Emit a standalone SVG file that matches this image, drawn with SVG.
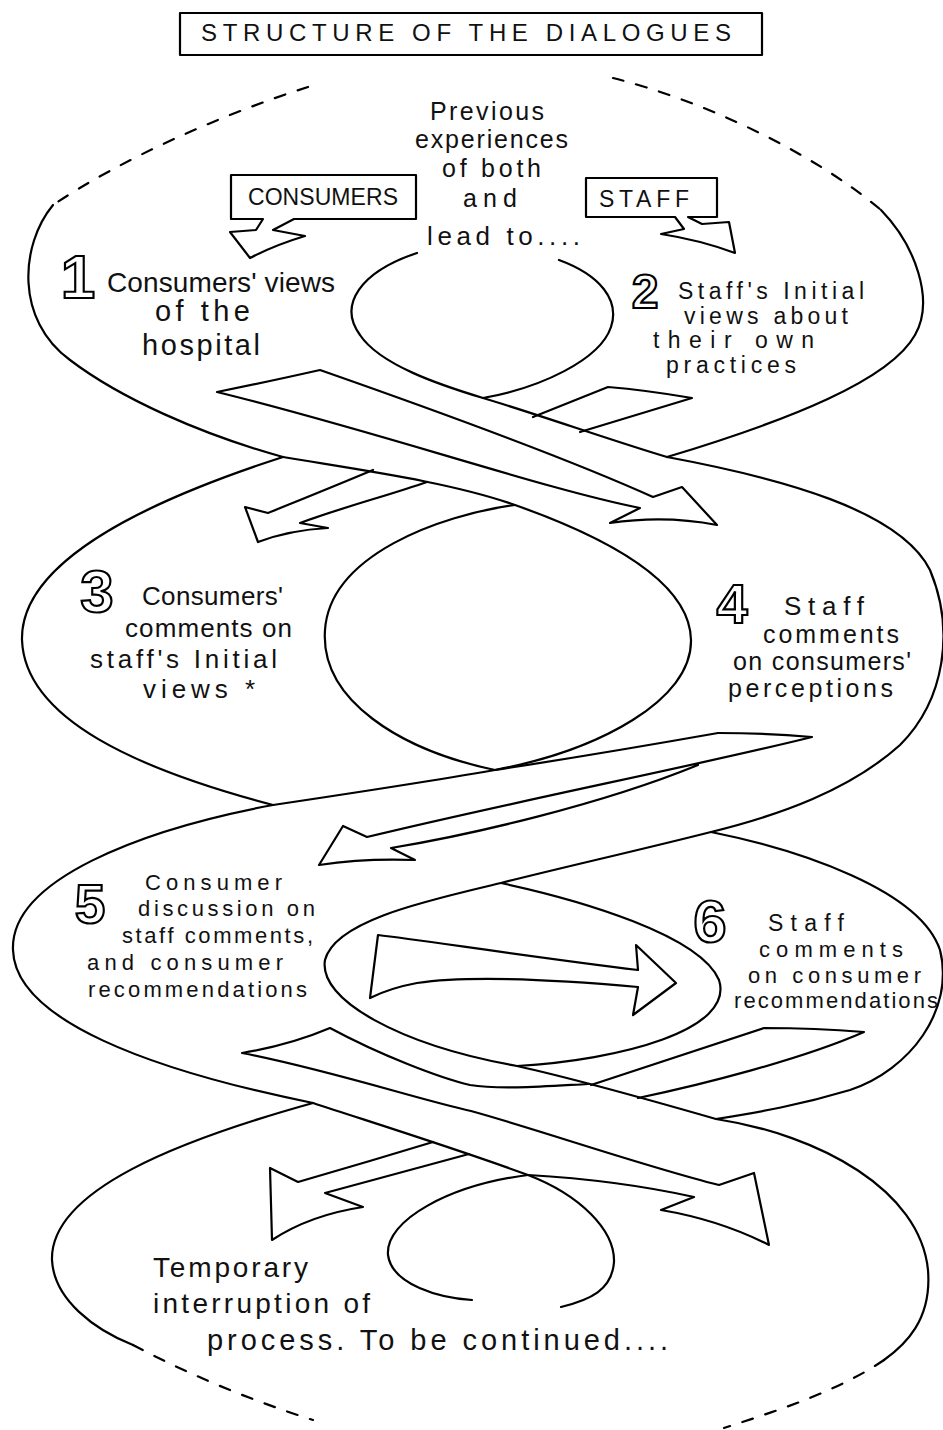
<svg xmlns="http://www.w3.org/2000/svg" width="943" height="1430" viewBox="0 0 943 1430">
<style>
.ln{fill:none;stroke:#000;stroke-width:2.2;stroke-linecap:round;stroke-linejoin:round}
.dash{stroke-dasharray:11 13}
.band{fill:#fff;stroke:#000;stroke-width:2.2;stroke-linejoin:round}
.t{font-family:"Liberation Sans","DejaVu Sans",sans-serif;fill:#111}
.num{font-family:"Liberation Sans","DejaVu Sans",sans-serif;font-weight:bold;fill:#fff;stroke:#000;stroke-width:2.2;text-anchor:middle}
</style>
<rect width="943" height="1430" fill="#fff"/>

<g id="title">
<rect class="ln" x="180" y="13" width="582" height="42"/>
<text class="t" x="201" y="41" font-size="24" textLength="530" lengthAdjust="spacing">STRUCTURE OF THE DIALOGUES</text>
</g>

<g id="helix">
<path class="ln dash" d="M308,87 C220,115 120,160 53,205"/>
<path class="ln dash" d="M613,78 C700,100 810,150 881,210"/>
<path class="ln" d="M53,205 C20,245 15,320 70,360 C120,398 200,434 283,457"/>
<path class="ln" d="M881,210 C915,245 935,300 915,335 C890,380 790,420 667,457"/>
<path class="ln" d="M417,253 C360,272 338,305 360,335 C380,365 440,385 483,398 C540,415 610,440 667,457"/>
<path class="ln" d="M559,260 C600,275 620,300 611,327 C600,360 540,388 483,398"/>
<path class="ln" d="M283,457 C360,470 450,482 515,505 C600,535 690,580 691,640 C692,700 600,750 495,770 C420,783 340,795 273,805"/>
<path class="ln" d="M515,505 C440,515 330,555 325,630 C320,700 400,750 495,770 C560,760 650,745 718,733"/>
<path class="ln" d="M283,457 C150,500 20,560 22,640 C25,720 140,770 273,805"/>
<path class="ln" d="M667,457 C780,478 900,510 930,570 C955,630 945,700 900,745 C850,790 780,815 711,832"/>
<path class="ln" d="M711,832 C640,850 560,868 501,883 C430,900 335,920 325,960 C318,1000 400,1045 517,1066 C580,1080 650,1100 716,1119"/>
<path class="ln" d="M501,883 C580,900 700,935 719,980 C735,1030 620,1060 517,1066"/>
<path class="ln" d="M273,805 C140,830 10,880 13,950 C15,1020 150,1070 313,1103"/>
<path class="ln" d="M711,832 C800,850 920,890 940,950 C955,1010 910,1070 850,1090 C800,1105 760,1112 716,1119"/>
<path class="ln" d="M716,1119 C820,1135 920,1190 928,1270 C932,1320 905,1345 884,1360"/>
<path class="ln dash" d="M884,1360 C840,1390 780,1410 724,1428"/>
<path class="ln" d="M313,1103 C180,1140 50,1190 52,1260 C54,1300 95,1330 133,1345"/>
<path class="ln dash" d="M133,1345 C190,1375 250,1400 313,1420"/>
<path class="ln" d="M313,1103 C380,1125 460,1150 528,1175 C580,1195 615,1230 614,1262 C612,1290 590,1300 561,1307"/>
<path class="ln" d="M528,1175 C450,1185 385,1220 388,1255 C392,1285 440,1298 472,1300"/>
</g>

<g id="connectors">
<path class="band" d="M217,392 Q262,383 320,370 C420,405 560,455 653,497 L682,487 L717,525 Q665,515 610,523 L640,508 C540,488 380,432 217,392 Z"/>
<path class="ln" d="M533,417 L608,387 Q645,390 692,398 L580,432"/>
<path class="ln" d="M373,470 C330,488 300,500 268,513 L245,507 L258,542 Q290,530 328,528 L300,523 C340,508 390,495 427,482"/>
<path class="ln" d="M718,733 Q765,733 812,737 C700,765 520,800 367,837 L343,826 L319,865 Q365,858 415,860 L391,848 C470,835 600,805 698,765"/>
<path class="band" d="M378,935 C420,940 540,958 638,970 L636,945 L676,983 L633,1015 L638,987 C560,980 470,975 417,983 Q390,988 370,998 Z"/>
<path class="ln" d="M588,1084 C550,1086 500,1090 470,1085 C440,1078 380,1055 330,1028 Q290,1045 242,1053 C330,1070 420,1100 471,1111 C540,1130 640,1165 719,1185 L754,1173 L769,1245 Q720,1220 661,1210 L694,1197 C640,1185 580,1178 528,1175"/>
<path class="ln" d="M591,1085 L764,1028 Q815,1028 864,1032 C800,1060 700,1085 638,1098"/>
<path class="ln" d="M433,1142 C390,1155 340,1170 298,1182 L270,1168 L272,1240 Q310,1215 363,1207 L325,1193 C380,1178 430,1165 469,1154"/>
</g>

<g id="start">
<text class="t" font-size="25" x="430" y="120" textLength="114" lengthAdjust="spacing">Previous</text>
<text class="t" font-size="25" x="415" y="148" textLength="153" lengthAdjust="spacing">experiences</text>
<text class="t" font-size="25" x="442" y="177" textLength="99" lengthAdjust="spacing">of both</text>
<text class="t" font-size="25" x="463" y="207" textLength="54" lengthAdjust="spacing">and</text>
<text class="t" font-size="26" x="427" y="245" textLength="153" lengthAdjust="spacing">lead to....</text>
</g>

<g id="consumers">
<path class="ln" d="M294,219 L416,219 L416,175 L231,175 L231,219 L263,219 L256,230 L230,232 L250,258 Q275,245 305,236 L273,230 Z"/>
<text class="t" font-size="23" x="248" y="205" textLength="150" lengthAdjust="spacing">CONSUMERS</text>
</g>

<g id="staff">
<path class="ln" d="M675,217 L586,217 L586,178 L717,178 L717,217 L688,217 L702,224 L729,222 L735,253 Q700,240 661,234 L684,229 Z"/>
<text class="t" font-size="23" x="599" y="207" textLength="90" lengthAdjust="spacing">STAFF</text>
</g>

<g id="stage1">
<text class="num" font-size="62" x="78" y="298">1</text>
<text class="t" font-size="28" x="107" y="292" textLength="228" lengthAdjust="spacing">Consumers' views</text>
<text class="t" font-size="29" x="155" y="321" textLength="95" lengthAdjust="spacing">of the</text>
<text class="t" font-size="29" x="142" y="355" textLength="118" lengthAdjust="spacing">hospital</text>
</g>

<g id="stage2">
<text class="num" font-size="48" x="645" y="308">2</text>
<text class="t" font-size="23" x="678" y="299" textLength="186" lengthAdjust="spacing">Staff's Initial</text>
<text class="t" font-size="23" x="684" y="324" textLength="164" lengthAdjust="spacing">views about</text>
<text class="t" font-size="23" x="653" y="348" textLength="161" lengthAdjust="spacing">their own</text>
<text class="t" font-size="23" x="666" y="373" textLength="130" lengthAdjust="spacing">practices</text>
</g>

<g id="stage3">
<text class="num" font-size="60" x="97" y="612">3</text>
<text class="t" font-size="26" x="142" y="605" textLength="141" lengthAdjust="spacing">Consumers'</text>
<text class="t" font-size="26" x="125" y="637" textLength="167" lengthAdjust="spacing">comments on</text>
<text class="t" font-size="26" x="90" y="668" textLength="187" lengthAdjust="spacing">staff's Initial</text>
<text class="t" font-size="26" x="143" y="698" textLength="112" lengthAdjust="spacing">views *</text>
</g>

<g id="stage4">
<text class="num" font-size="56" x="732" y="623">4</text>
<text class="t" font-size="26" x="784" y="615" textLength="80" lengthAdjust="spacing">Staff</text>
<text class="t" font-size="25" x="763" y="643" textLength="136" lengthAdjust="spacing">comments</text>
<text class="t" font-size="25" x="733" y="670" textLength="178" lengthAdjust="spacing">on consumers'</text>
<text class="t" font-size="25" x="728" y="697" textLength="165" lengthAdjust="spacing">perceptions</text>
</g>

<g id="stage5">
<text class="num" font-size="55" x="90" y="923">5</text>
<text class="t" font-size="22" x="145" y="890" textLength="137" lengthAdjust="spacing">Consumer</text>
<text class="t" font-size="22" x="138" y="916" textLength="177" lengthAdjust="spacing">discussion on</text>
<text class="t" font-size="22" x="122" y="943" textLength="191" lengthAdjust="spacing">staff comments,</text>
<text class="t" font-size="22" x="87" y="970" textLength="196" lengthAdjust="spacing">and consumer</text>
<text class="t" font-size="22" x="88" y="997" textLength="219" lengthAdjust="spacing">recommendations</text>
</g>

<g id="stage6">
<text class="num" font-size="60" x="710" y="942">6</text>
<text class="t" font-size="23" x="768" y="931" textLength="76" lengthAdjust="spacing">Staff</text>
<text class="t" font-size="22" x="759" y="957" textLength="144" lengthAdjust="spacing">comments</text>
<text class="t" font-size="22" x="748" y="983" textLength="173" lengthAdjust="spacing">on consumer</text>
<text class="t" font-size="22" x="734" y="1008" textLength="204" lengthAdjust="spacing">recommendations</text>
</g>

<g id="end">
<text class="t" font-size="28" x="153" y="1277" textLength="155" lengthAdjust="spacing">Temporary</text>
<text class="t" font-size="28" x="153" y="1313" textLength="217" lengthAdjust="spacing">interruption of</text>
<text class="t" font-size="29" x="207" y="1350" textLength="461" lengthAdjust="spacing">process. To be continued....</text>
</g>
</svg>
